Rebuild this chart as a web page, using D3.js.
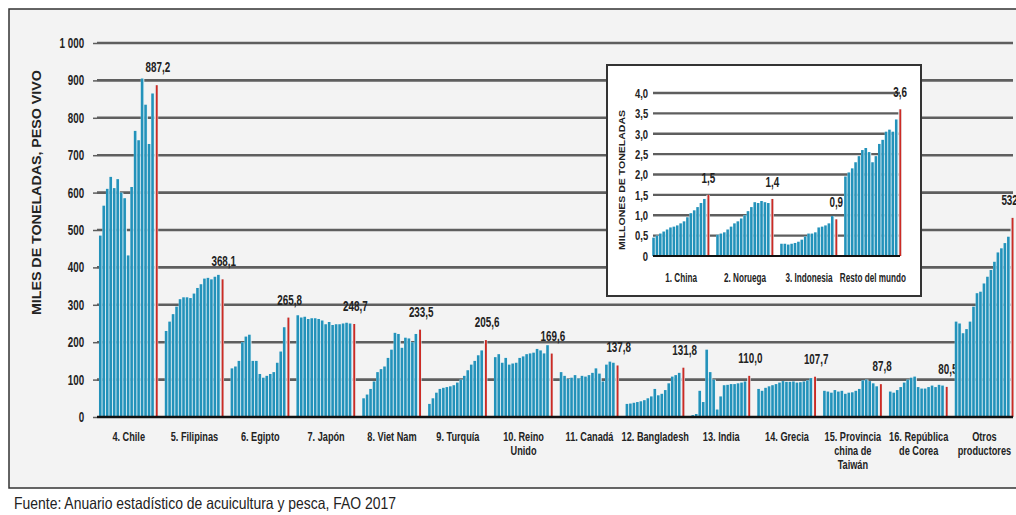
<!DOCTYPE html>
<meta charset="utf-8">
<style>
  body { margin: 0; background: #fff; }
  svg { display: block; }
  .cond { font-family: "Liberation Sans", Arial, sans-serif; }
  .sq { transform-box: fill-box; transform: scaleX(0.68); transform-origin: 50% 50%; }
  .tick text { font-weight: bold; font-size: 14px; fill: #222; transform-box: fill-box; transform: scaleX(0.7); transform-origin: 100% 50%; }
  .lbl { font-weight: bold; font-size: 13.5px; fill: #222; text-anchor: middle; }
  .val { font-weight: bold; font-size: 14.5px; fill: #222; text-anchor: middle; }
  .ytitle { font-family: "Liberation Sans", Arial, sans-serif; font-weight: bold; font-size: 13px; fill: #222; text-anchor: middle; }
  .fuente { font-size: 16.5px; fill: #222; }
</style>
<body>
<svg width="1016" height="515"></svg>
<script src="https://d3js.org/d3.v7.min.js"></script>
<script>

// productores principales (miles de toneladas), ultimo valor = barra roja
var categorias = ["4. Chile", "5. Filipinas", "6. Egipto", "7. Japón", "8. Viet Nam", "9. Turquía",
  "10. Reino\nUnido", "11. Canadá", "12. Bangladesh", "13. India", "14. Grecia",
  "15. Provincia\nchina de\nTaiwán", "16. República\nde Corea", "Otros\nproductores"];

var chile      = [485, 565, 610, 642, 612, 636, 600, 585, 432, 615, 765, 740, 905, 835, 730, 865, 887.2];
var filipinas  = [230, 255, 275, 295, 315, 320, 320, 318, 330, 345, 355, 370, 372, 368, 375, 380, 368.1];
var egipto     = [130, 135, 150, 200, 215, 220, 150, 150, 115, 105, 110, 115, 120, 145, 175, 240, 265.8];
var japon      = [272, 266, 268, 262, 264, 264, 262, 258, 248, 254, 246, 248, 248, 250, 252, 250, 248.7];
var vietnam    = [50, 60, 75, 95, 120, 128, 135, 158, 180, 225, 222, 185, 212, 210, 200, 222, 233.5];
var turquia    = [35, 50, 65, 75, 78, 80, 82, 85, 92, 100, 110, 125, 140, 150, 165, 178, 205.6];
var reinoUnido = [160, 168, 145, 158, 140, 143, 145, 158, 162, 168, 170, 172, 182, 178, 170, 192, 169.6];
var canada     = [120, 110, 102, 105, 112, 103, 110, 108, 112, 118, 130, 116, 95, 140, 148, 145, 137.8];
var bangladesh = [35, 36, 38, 40, 42, 45, 50, 55, 75, 58, 62, 72, 90, 108, 112, 118, 131.8];
var india      = [5, 8, 70, 40, 180, 120, 100, 20, 55, 85, 86, 88, 88, 90, 92, 95, 110.0];
var grecia     = [75, 70, 78, 82, 85, 88, 92, 96, 94, 94, 95, 92, 93, 95, 98, 104, 107.7];
var taiwan     = [70, 68, 65, 72, 68, 70, 62, 65, 66, 70, 75, 98, 100, 96, 90, 82, 87.8];
var corea      = [68, 65, 72, 80, 92, 100, 105, 108, 80, 76, 76, 80, 84, 80, 86, 84, 80.5];
var otros      = [255, 250, 224, 235, 255, 295, 331, 335, 357, 375, 393, 415, 440, 451, 465, 482, 532.4];

var series = [chile, filipinas, egipto, japon, vietnam, turquia, reinoUnido, canada,
  bangladesh, india, grecia, taiwan, corea, otros];

var yTicks = [0, 100, 200, 300, 400, 500, 600, 700, 800, 900, 1000];

// recuadro: millones de toneladas
var categoriasInset = ["1. China", "2. Noruega", "3. Indonesia", "Resto del mundo"];
var china     = [0.45, 0.5, 0.55, 0.6, 0.65, 0.7, 0.72, 0.75, 0.8, 0.85, 0.95, 1.05, 1.12, 1.2, 1.3, 1.4, 1.5];
var noruega   = [0.52, 0.55, 0.58, 0.65, 0.72, 0.8, 0.85, 0.92, 1.0, 1.1, 1.2, 1.32, 1.3, 1.35, 1.32, 1.3, 1.4];
var indonesia = [0.3, 0.3, 0.28, 0.3, 0.32, 0.35, 0.4, 0.48, 0.55, 0.55, 0.58, 0.7, 0.72, 0.75, 0.8, 0.98, 0.9];
var resto     = [1.95, 2.05, 2.15, 2.3, 2.45, 2.6, 2.65, 2.55, 2.3, 2.45, 2.75, 2.85, 3.05, 3.1, 3.05, 3.35, 3.6];
var seriesInset = [china, noruega, indonesia, resto];
var yTicksInset = [0, 0.5, 1, 1.5, 2, 2.5, 3, 3.5, 4];

var es = d3.formatLocale({decimal: ",", thousands: " ", grouping: [3], currency: ["", ""]});
var fmtInt = es.format(",d"), fmt1 = es.format(".1f");

var svg = d3.select("svg");

var BLUE = "#2392ba", RED = "#cc2b24", GRID = "#5e5e5e";

// marco
svg.append("rect").attr("x", 9).attr("y", 9).attr("width", 1020).attr("height", 479)
  .attr("fill", "#f3f3f3").attr("stroke", "#333").attr("stroke-width", 1.5);

var y = d3.scaleLinear().domain([0, 1000]).range([417, 43]);
var x = d3.scaleBand().domain(categorias).range([97, 1016]).paddingInner(0.1).paddingOuter(0.03);
var xi = d3.scaleBand().domain(d3.range(17)).range([0, x.bandwidth()]);

// rejilla y eje
var yAxis = d3.axisLeft(y).tickValues(yTicks).tickSize(4).tickPadding(9).tickFormat(fmtInt);
var ax = svg.append("g").attr("class", "cond").attr("transform", "translate(97,0)").call(yAxis);
ax.select(".domain").remove();
ax.selectAll(".tick line").attr("stroke", GRID).attr("stroke-width", 1.5);

svg.append("g").selectAll("line").data(yTicks.filter(function(d) { return d > 0; }))
  .join("line")
  .attr("x1", 97).attr("x2", 1013)
  .attr("y1", function(d) { return y(d); }).attr("y2", function(d) { return y(d); })
  .attr("stroke", GRID).attr("stroke-width", 2.6);

svg.append("text").attr("class", "ytitle")
  .attr("transform", "translate(41," + y(600) + ") rotate(-90)")
  .attr("textLength", 245).attr("lengthAdjust", "spacingAndGlyphs")
  .text("MILES DE TONELADAS, PESO VIVO");

function drawGroups(g, cats, data, xs, xin, ys) {
  var grp = g.selectAll("g.grupo").data(data).join("g").attr("class", "grupo")
    .attr("transform", function(d, i) { return "translate(" + xs(cats[i]) + ",0)"; });
  grp.selectAll("rect.fondo").data(function(d) { return d; }).join("rect").attr("class", "fondo")
    .attr("x", function(d, j) { return xin(j); })
    .attr("width", xin.bandwidth())
    .attr("y", function(d) { return ys(d); })
    .attr("height", function(d) { return ys(0) - ys(d); })
    .attr("fill", "#e4f2f7");
  grp.selectAll("rect.barra").data(function(d) { return d; }).join("rect").attr("class", "barra")
    .attr("x", function(d, j) { return xin(j) + (j === 16 ? xin.bandwidth() * 0.3 : 0); })
    .attr("width", function(d, j) { return xin.bandwidth() * (j === 16 ? 0.55 : 0.74); })
    .attr("y", function(d) { return ys(d); })
    .attr("height", function(d) { return ys(0) - ys(d); })
    .attr("fill", function(d, j) { return j === 16 ? RED : BLUE; });
  return grp;
}

var main = svg.append("g");
var grp = drawGroups(main, categorias, series, x, xi, y);
grp.append("text").attr("class", "val cond sq")
  .attr("x", xi(16) + xi.bandwidth() * 0.9)
  .attr("y", function(d) { return y(d[16]) - 13; })
  .text(function(d) { return fmt1(d[16]); });

svg.append("line").attr("x1", 97).attr("x2", 1013).attr("y1", y(0)).attr("y2", y(0))
  .attr("stroke", "#111").attr("stroke-width", 2.5);

// etiquetas de categorias
var lab = svg.append("g").selectAll("text").data(categorias).join("text")
  .attr("class", "lbl cond sq")
  .attr("x", function(d) { return x(d) + x.bandwidth() / 2; })
  .attr("y", 441);
lab.selectAll("tspan").data(function(d) { return d.split("\n"); }).join("tspan")
  .attr("x", function() { var c = this.parentNode.__data__; return x(c) + x.bandwidth() / 2; })
  .attr("dy", function(d, i) { return i ? 14 : 0; })
  .text(function(d) { return d; });

// recuadro
var inset = svg.append("g");
inset.append("rect").attr("x", 607).attr("y", 65).attr("width", 314).attr("height", 231)
  .attr("fill", "#fff").attr("stroke", "#333").attr("stroke-width", 2);

var yI = d3.scaleLinear().domain([0, 4]).range([256, 93]);
var xI = d3.scaleBand().domain(categoriasInset).range([651, 903]).paddingInner(0.1).paddingOuter(0.02);
var xiI = d3.scaleBand().domain(d3.range(17)).range([0, xI.bandwidth()]);

inset.append("g").selectAll("line").data(yTicksInset.filter(function(d) { return d > 0; }))
  .join("line")
  .attr("x1", 653).attr("x2", 900)
  .attr("y1", function(d) { return yI(d); }).attr("y2", function(d) { return yI(d); })
  .attr("stroke", GRID).attr("stroke-width", 2.4);

var axI = inset.append("g").attr("class", "cond").attr("transform", "translate(650,0)")
  .call(d3.axisLeft(yI).tickValues(yTicksInset).tickSize(0).tickPadding(2)
    .tickFormat(function(d) { return d === 0 ? "0" : fmt1(d); }));
axI.select(".domain").remove();
axI.selectAll(".tick text").style("font-size", "13.5px");

inset.append("text").attr("class", "ytitle")
  .style("font-size", "9.5px")
  .attr("transform", "translate(625,180) rotate(-90)")
  .attr("textLength", 140).attr("lengthAdjust", "spacingAndGlyphs")
  .text("MILLONES DE TONELADAS");

var grpI = drawGroups(inset, categoriasInset, seriesInset, xI, xiI, yI);
grpI.append("text").attr("class", "val cond sq")
  .attr("x", xiI(16) + xiI.bandwidth() * 0.55)
  .attr("y", function(d) { return yI(d[16]) - 12; })
  .text(function(d) { return fmt1(d[16]); });

inset.append("line").attr("x1", 653).attr("x2", 900).attr("y1", yI(0)).attr("y2", yI(0))
  .attr("stroke", "#111").attr("stroke-width", 2);

inset.append("g").selectAll("text").data(categoriasInset).join("text")
  .attr("class", "lbl cond sq").style("font-size", "12px")
  .attr("x", function(d) { return xI(d) + xI.bandwidth() / 2; })
  .attr("y", 282)
  .text(function(d) { return d; });

// fuente
svg.append("text").attr("class", "fuente cond")
  .attr("x", 14).attr("y", 509)
  .attr("textLength", 382).attr("lengthAdjust", "spacingAndGlyphs")
  .text("Fuente: Anuario estadístico de acuicultura y pesca, FAO 2017");

</script>
</body>
